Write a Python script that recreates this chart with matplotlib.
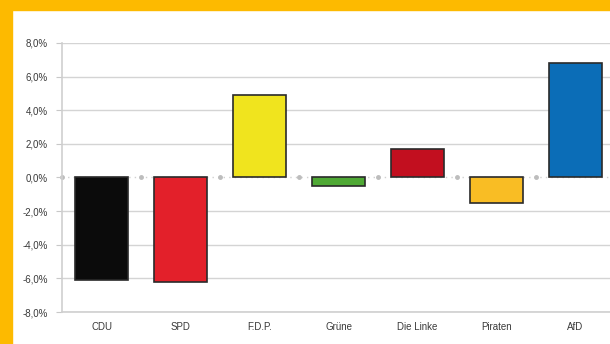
import matplotlib
matplotlib.use("Agg")
import matplotlib.pyplot as plt
from matplotlib.patches import Rectangle
import numpy as np

plt.rcParams["font.family"] = ["Liberation Sans", "DejaVu Sans"]

parties = ["CDU", "SPD", "F.D.P.", "Grüne", "Die Linke", "Piraten", "AfD"]
changes = [-6.1, -6.2, 4.9, -0.5, 1.7, -1.5, 6.8]
colors = ["#0b0b0b", "#e3202a", "#f0e41e", "#4fa935", "#c20f1f", "#f9bd24", "#0b6db7"]
yticks = [-8, -6, -4, -2, 0, 2, 4, 6, 8]

fig = plt.figure(figsize=(6.1, 3.44), dpi=100)
fig.patch.set_facecolor("white")

# orange frame (top and left)
fig.patches.append(Rectangle((0, 1 - 10 / 344), 1, 10 / 344, transform=fig.transFigure,
                             color="#fdba00", zorder=0))
fig.patches.append(Rectangle((0, 0), 12 / 610, 1, transform=fig.transFigure,
                             color="#fdba00", zorder=0))

ax = fig.add_axes([62 / 610, 1 - 312 / 344, 553 / 610, 269 / 344])
x = np.arange(len(parties))
ax.set_xlim(-0.5, len(parties) - 0.5)
ax.set_ylim(-8, 8)

for v in yticks:
    if v == 0:
        continue
    ax.axhline(v, color="#d4d4d4", lw=1, zorder=0)
ax.axhline(0, color="#d0d0d0", lw=1, ls=(0, (1, 3)), zorder=1)
ax.plot(np.arange(len(parties) + 1) - 0.5, np.zeros(len(parties) + 1), "o",
        color="#bdbdbd", ms=2.5, zorder=1, clip_on=False)

ax.bar(x, changes, width=0.68, color=colors, edgecolor="#2a2a2a", linewidth=1.2, zorder=3)

ax.set_yticks(yticks)
ax.set_yticklabels([f"{v:.1f}%".replace(".", ",") for v in yticks])
ax.set_xticks(x)
ax.set_xticklabels(parties)
ax.tick_params(axis="y", length=4, color="#c8c8c8", labelsize=7, labelcolor="#3a3a3a", pad=6)
ax.tick_params(axis="x", length=0, labelsize=7, labelcolor="#3a3a3a", pad=7)

for s in ["top", "right"]:
    ax.spines[s].set_visible(False)
for s in ["left", "bottom"]:
    ax.spines[s].set_color("#cfcfcf")
    ax.spines[s].set_linewidth(1.2)

fig.savefig("out.png", dpi=100)
